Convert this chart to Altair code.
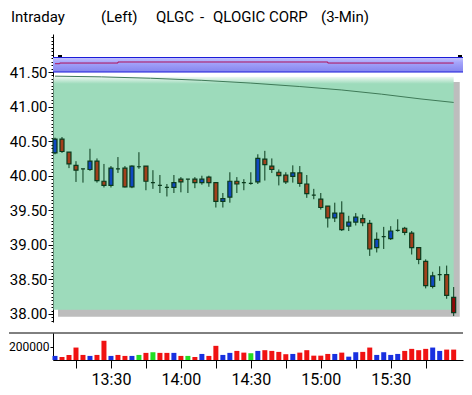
import altair as alt
import pandas as pd

# ---------------- data ----------------
start_minute = 13 * 60 + 6          # first 3-minute bar = 13:06
bar_minutes = list(range(start_minute, start_minute + 3 * 58, 3))

opens = [40.33, 40.53, 40.34, 40.15, 40.10, 40.09, 40.21, 39.92, 39.86, 40.10,
         40.11, 39.84, 40.13, 40.14, 39.90, 39.86, 39.83, 39.83, 39.95, 39.95,
         39.95, 39.90, 39.98, 39.90, 39.63, 39.69, 39.92, 39.90, 39.89, 39.91,
         40.24, 40.14, 40.05, 40.01, 39.99, 40.04, 39.88, 39.72, 39.66, 39.56,
         39.39, 39.46, 39.27, 39.33, 39.38, 39.31, 38.96, 39.12, 39.09, 39.21,
         39.24, 39.17, 38.96, 38.76, 38.40, 38.57, 38.57, 38.24]
highs = [40.55, 40.56, 40.34, 40.21, 40.10, 40.39, 40.25, 40.17, 40.14, 40.27,
         40.14, 40.15, 40.34, 40.14, 40.08, 40.01, 39.88, 40.01, 39.98, 39.95,
         39.98, 40.00, 40.00, 39.90, 39.75, 40.05, 39.98, 39.95, 40.05, 40.31,
         40.36, 40.25, 40.09, 40.05, 40.15, 40.14, 40.01, 39.81, 39.75, 39.56,
         39.61, 39.63, 39.42, 39.46, 39.44, 39.36, 39.18, 39.26, 39.27, 39.37,
         39.26, 39.20, 38.96, 38.79, 38.61, 38.69, 38.70, 38.39]
lows = [40.31, 40.33, 40.11, 39.91, 39.90, 40.07, 39.90, 39.83, 39.83, 40.04,
        39.83, 39.82, 40.10, 39.79, 39.81, 39.75, 39.70, 39.75, 39.76, 39.75,
        39.82, 39.87, 39.84, 39.54, 39.54, 39.61, 39.75, 39.79, 39.87, 39.88,
        39.93, 40.04, 39.86, 39.88, 39.90, 39.84, 39.68, 39.66, 39.51, 39.25,
        39.33, 39.20, 39.20, 39.28, 39.27, 38.84, 38.89, 38.94, 39.07, 39.19,
        39.14, 38.86, 38.72, 38.37, 38.37, 38.48, 38.22, 37.97]
closes = [40.53, 40.35, 40.17, 40.08, 40.10, 40.21, 39.93, 39.86, 40.11, 40.10,
          39.84, 40.14, 40.13, 39.92, 39.90, 39.86, 39.83, 39.90, 39.91, 39.95,
          39.90, 39.95, 39.90, 39.63, 39.67, 39.92, 39.88, 39.90, 39.89, 40.25,
          40.16, 40.09, 40.00, 39.91, 40.04, 39.89, 39.74, 39.72, 39.54, 39.39,
          39.46, 39.22, 39.33, 39.40, 39.32, 38.94, 39.08, 39.12, 39.20, 39.21,
          39.18, 38.96, 38.79, 38.41, 38.55, 38.57, 38.27, 38.02]
volumes = [62000, 46000, 77000, 189000, 77000, 62000, 77000, 292000, 62000, 77000,
           62000, 62000, 77000, 108000, 118000, 108000, 108000, 108000, 62000, 62000,
           46000, 92000, 62000, 215000, 77000, 108000, 138000, 112000, 103000, 138000,
           149000, 138000, 123000, 88000, 92000, 112000, 149000, 66000, 66000, 92000,
           92000, 112000, 51000, 118000, 123000, 189000, 77000, 118000, 77000, 92000,
           138000, 169000, 149000, 169000, 189000, 138000, 158000, 158000]
volume_kind = ["up", "down", "down", "down", "down", "up", "down", "down", "up", "down",
               "down", "up", "flat", "down", "flat", "down", "down", "up", "down", "flat",
               "down", "up", "down", "down", "up", "up", "down", "down", "flat", "up",
               "down", "down", "down", "down", "up", "down", "down", "down", "down", "down",
               "up", "down", "up", "up", "down", "down", "up", "up", "up", "up",
               "down", "down", "down", "down", "up", "up", "down", "down"]

ma_minutes = [786, 806, 827, 849, 870, 891, 909, 926, 943, 957]
ma_values = [41.44, 41.43, 41.41, 41.38, 41.34, 41.29, 41.24, 41.18, 41.11, 41.06]

band_low, band_high = 41.50, 41.71
ref_minutes = [786, 788, 813, 903, 957]
ref_values = [41.62, 41.63, 41.645, 41.63, 41.63]

price_labels = [38.00, 38.50, 39.00, 39.50, 40.00, 40.50, 41.00, 41.50]
volume_tick = [200000]

# ---------------- styling / layout ----------------
FONT = "Roboto"
W = 410
PRICE_H = 288
VOL_H = 27
OUTLINE = "#0a3a1c"
UP = "#1048c0"
DOWN = "#a2401c"
LAST = "#8e0808"
VCOL = {"up": "#1830e0", "down": "#f01212", "flat": "#22dd22"}

X_DOMAIN = [785.14, 961.0]
x_scale = alt.Scale(domain=X_DOMAIN, nice=False, zero=False, padding=0)
y_scale = alt.Scale(domain=[37.884, 42.05], nice=False, zero=False)

body_color = []
for i, (o, c) in enumerate(zip(opens, closes)):
    if i == len(opens) - 1:
        body_color.append(LAST)
    elif c > o:
        body_color.append(UP)
    elif c < o:
        body_color.append(DOWN)
    else:
        body_color.append(OUTLINE)

df = pd.DataFrame({
    "t": bar_minutes, "open": opens, "high": highs, "low": lows, "close": closes,
    "body": body_color, "vol": volumes,
    "vcol": [VCOL[k] for k in volume_kind],
})
ma_df = pd.DataFrame({"t": ma_minutes, "v": ma_values})
ref_df = pd.DataFrame({"t": ref_minutes, "v": ref_values})
rect_df = pd.DataFrame({
    "name": ["shadow", "green", "band"],
    "x1": [787.3, 785.3, X_DOMAIN[0]], "x2": [959.6, 957.0, X_DOMAIN[1]],
    "y1": [37.96, 38.06, band_low], "y2": [41.355, 41.43, band_high],
})
one = pd.DataFrame({"a": [0]})

major_axis = alt.Axis(
    orient="left", values=price_labels, format=".2f", title=None, grid=False,
    tickSize=5, labelPadding=1, labelOverlap=False, labelFont=FONT,
    labelFontSize=15, labelColor="black", domainColor="black", tickColor="black")
minor_axis = alt.Axis(
    orient="left", values=[round(37.90 + 0.05 * i, 2) for i in range(83)],
    labels=False, title=None, grid=False, tickSize=2, domain=False,
    tickColor="black")

X = alt.X("t:Q", scale=x_scale, axis=None)

shadow = alt.Chart(rect_df).transform_filter("datum.name == 'shadow'").mark_rect(
    color="#bdbdbd").encode(
    x=alt.X("x1:Q", scale=x_scale, axis=None), x2="x2:Q",
    y=alt.Y("y1:Q", scale=y_scale, axis=major_axis), y2="y2:Q")
green = alt.Chart(rect_df).transform_filter("datum.name == 'green'").mark_rect(
    fill=alt.Gradient(gradient="linear", x1=0, x2=0, y1=0, y2=1,
                      stops=[alt.GradientStop(offset=0, color="#eef8f2"),
                             alt.GradientStop(offset=0.03, color="#9ddbbb"),
                             alt.GradientStop(offset=1, color="#9ddbbb")])
).encode(
    x=alt.X("x1:Q", scale=x_scale, axis=None), x2="x2:Q",
    y=alt.Y("y1:Q", scale=y_scale, axis=minor_axis), y2="y2:Q")
band = alt.Chart(rect_df).transform_filter("datum.name == 'band'").mark_rect(
    fill=alt.Gradient(gradient="linear", x1=0, x2=0, y1=0, y2=1,
                      stops=[alt.GradientStop(offset=0, color="#c4c4ff"),
                             alt.GradientStop(offset=0.35, color="#a4a4fa"),
                             alt.GradientStop(offset=1, color="#8484ee")])
).encode(
    x=alt.X("x1:Q", scale=x_scale, axis=None), x2="x2:Q",
    y=alt.Y("y1:Q", scale=y_scale, axis=None), y2="y2:Q")
band_lines = alt.Chart(pd.DataFrame({"v": [band_low, band_high]})).mark_rule(
    color="#1c1cd8", strokeWidth=1).encode(
    x=alt.value(0), x2=alt.value(W), y=alt.Y("v:Q", scale=y_scale, axis=None))
band_marks = alt.Chart(one).mark_rect(color="black").encode(
    x=alt.value(5), x2=alt.value(9), y=alt.value(21), y2=alt.value(23)) + \
    alt.Chart(one).mark_rect(color="black").encode(
    x=alt.value(W - 5), x2=alt.value(W - 1), y=alt.value(21), y2=alt.value(23))
ref_line = alt.Chart(ref_df).mark_line(color="#b0105a", strokeWidth=1,
                                       interpolate="step-after").encode(
    x=X, y=alt.Y("v:Q", scale=y_scale, axis=None))
ma_line = alt.Chart(ma_df).mark_line(color="#3f7a58", strokeWidth=1).encode(
    x=X, y=alt.Y("v:Q", scale=y_scale, axis=None))
wicks = alt.Chart(df).mark_rule(color=OUTLINE, strokeWidth=1).encode(
    x=X, y=alt.Y("low:Q", scale=y_scale, axis=None), y2="high:Q")
bodies = alt.Chart(df).mark_bar(size=4, stroke=OUTLINE, strokeWidth=1.2).encode(
    x=X, y=alt.Y("open:Q", scale=y_scale, axis=None), y2="close:Q",
    color=alt.Color("body:N", scale=None))

# invisible pin that fixes the top of the drawing, so the header text sits
# fully inside the page
pin = alt.Chart(one).mark_rule(opacity=0).encode(
    x=alt.value(0), x2=alt.value(1), y=alt.value(-26))

def label(txt, xpos):
    return alt.Chart(one).mark_text(
        text=txt, font=FONT, fontSize=15, align="left", baseline="alphabetic",
        color="black").encode(x=alt.value(xpos), y=alt.value(-12))

price = alt.layer(
    shadow, green, band, band_lines, band_marks, ref_line, ma_line, wicks, bodies,
    pin,
    label("Intraday", -42), label("(Left)", 48), label("QLGC", 103),
    label("-", 147), label("QLOGIC CORP", 160), label("(3-Min)", 268),
).resolve_axis(y="independent").properties(width=W, height=PRICE_H)

# ---------------- volume panel ----------------
time_ticks = list(range(13 * 60 + 15, 16 * 60, 15))
x_axis = alt.Axis(
    values=time_ticks, title=None, grid=False, tickSize=8, labelPadding=3,
    labelExpr="datum.value % 30 == 0 ? floor(datum.value / 60) + ':' + "
              "(datum.value % 60 == 0 ? '00' : '30') : ''",
    labelOverlap=False, labelFlush=False, labelFont=FONT, labelFontSize=16,
    labelColor="black", domainColor="black", tickColor="black")
vol_axis = alt.Axis(values=volume_tick, format="d", title=None, grid=False,
                    tickSize=3, labelPadding=1, labelFont=FONT, labelFontSize=12,
                    labelColor="black", domainColor="black", tickColor="black")

vol_bars = alt.Chart(df).mark_bar(size=5).encode(
    x=alt.X("t:Q", scale=x_scale, axis=x_axis),
    y=alt.Y("vol:Q", scale=alt.Scale(domain=[0, 410000], nice=False), axis=vol_axis),
    color=alt.Color("vcol:N", scale=None))
sep = alt.Chart(one).mark_rule(color="black", strokeWidth=1).encode(
    x=alt.value(-44), x2=alt.value(W), y=alt.value(0))
volume = alt.layer(vol_bars, sep).properties(width=W, height=VOL_H)

chart = alt.vconcat(price, volume, spacing=10).properties(
    padding=0, background="white"
).configure_view(strokeWidth=0)

chart.save("out.html", embed_options={"renderer": "svg", "actions": False})
